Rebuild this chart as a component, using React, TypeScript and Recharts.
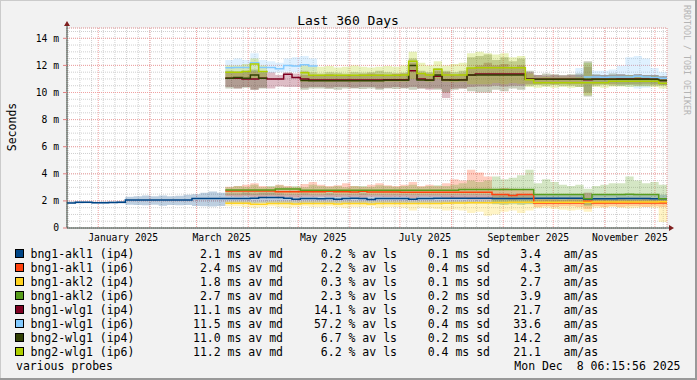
import React from "react";
import { Area, CartesianGrid, ComposedChart, Line, ReferenceDot, XAxis, YAxis } from "recharts";

const FONT = "'DejaVu Sans Mono', monospace";
const STEP_DAYS = 5;
const SPAN_DAYS = 360;
const Y_TOP = 14.76;
const LATE_START = 19; // first sample of the probes that were added in March
const START = new Date(2024, 11, 13, 6, 15, 56);
const AXIS = "#2c4d43";

const dayOf = (d: Date) => (d.getTime() - START.getTime()) / 86400000;

// x axis: labels sit in the middle of every second month
const LABEL_MONTHS = [0, 2, 4, 6, 8, 10];
const LABEL_NAMES = ["January 2025", "March 2025", "May 2025", "July 2025", "September 2025", "November 2025"];
const LABEL_TICKS = LABEL_MONTHS.map((m) => dayOf(new Date(2025, m, 1)) + 15);
const MONTH_TICKS = Array.from({ length: 12 }, (_, m) => dayOf(new Date(2025, m, 1)));
const WEEK_TICKS: number[] = [];
for (let d = new Date(2024, 11, 14); dayOf(d) < SPAN_DAYS; d = new Date(d.getFullYear(), d.getMonth(), d.getDate() + 7)) {
  WEEK_TICKS.push(dayOf(d));
}
const MAJOR_Y = [0, 2, 4, 6, 8, 10, 12, 14];
const MINOR_Y = Array.from({ length: 30 }, (_, i) => i * 0.5);

// legend
const NAMES = ["bng1-akl1 (ip4)", "bng1-akl1 (ip6)", "bng1-akl2 (ip4)", "bng1-akl2 (ip6)", "bng1-wlg1 (ip4)", "bng1-wlg1 (ip6)", "bng2-wlg1 (ip4)", "bng2-wlg1 (ip6)"];
const COLORS = ["#004586", "#ff420e", "#ffd320", "#579d1c", "#7e0021", "#83caff", "#314004", "#aecf00"];
const AV_MEDIAN = [2.1, 2.4, 1.8, 2.7, 11.1, 11.5, 11.0, 11.2];
const AV_LOSS = [0.2, 2.2, 0.3, 2.3, 14.1, 57.2, 6.7, 6.2];
const AV_SD = [0.1, 0.4, 0.1, 0.2, 0.2, 0.4, 0.2, 0.4];
const AM_AS = [3.4, 4.3, 2.7, 3.9, 21.7, 33.6, 14.2, 21.1];

type V = number | null;
const _ = null;
const late = (v: V[]): V[] => [...Array(LATE_START).fill(null), ...v];

// bng1-akl1 (ip4), the only probe running for the whole period (ms, one sample every 5 days)
const AKL1_V4_MED = [
  1.85, 1.9, 1.9, 1.87, 1.87, 1.88, 1.9, 2.07, 2.07, 2.07,
  2.07, 2.07, 2.07, 2.07, 2.07, 2.18, 2.18, 2.18, 2.18, 2.18,
  2.18, 2.18, 2.2, 2.26, 2.26, 2.26, 2.2, 2.12, 2.17, 2.17,
  2.15, 2.17, 2.12, 2.17, 2.2, 2.17, 2.1, 2.17, 2.17, 2.17,
  2.17, 2.12, 2.17, 2.17, 2.19, 2.19, 2.19, 2.19, 2.19, 2.19,
  2.19, 2.17, 2.17, 2.17, 2.17, 2.17, 2.19, 2.19, 2.19, 2.19,
  2.19, 2.19, 2.12, 2.15, 2.15, 2.15, 2.17, 2.17, 2.17, 2.17,
  2.15, 2.15, 2.15,
];
const AKL1_V4_LO = [
  1.8, 1.8, 1.82, 1.8, 1.8, 1.82, 1.8, 1.72, 1.7, 1.68,
  1.72, 1.65, 1.7, 1.68, 1.7, 1.62, 1.6, 1.58, 1.62, 1.8,
  1.8, 1.82, 1.8, 1.85, 1.85, 1.82, 1.8, 1.8, 1.82, 1.8,
  1.8, 1.82, 1.8, 1.8, 1.78, 1.8, 1.8, 1.82, 1.8, 1.8,
  1.8, 1.8, 1.8, 1.8, 1.8, 1.78, 1.8, 1.8, 1.8, 1.8,
  1.8, 1.8, 1.8, 1.82, 1.8, 1.8, 1.9, 1.9, 1.88, 1.9,
  1.9, 1.88, 1.7, 1.9, 1.9, 1.88, 1.9, 1.9, 1.88, 1.9,
  1.9, 1.88, 1.88,
];
const AKL1_V4_HI = [
  1.95, 1.96, 1.95, 1.94, 1.95, 1.95, 1.97, 2.3, 2.35, 2.4,
  2.35, 2.4, 2.35, 2.38, 2.45, 2.5, 2.6, 2.7, 2.6, 2.55,
  2.55, 2.6, 2.55, 2.6, 2.6, 2.55, 2.5, 2.5, 2.55, 2.5,
  2.5, 2.55, 2.5, 2.5, 2.5, 2.55, 2.5, 2.5, 2.5, 2.5,
  2.5, 2.5, 2.5, 2.5, 2.5, 2.5, 2.5, 2.5, 2.5, 2.5,
  2.5, 2.5, 2.5, 2.5, 2.5, 2.5, 2.45, 2.45, 2.45, 2.45,
  2.45, 2.45, 2.6, 2.45, 2.45, 2.45, 2.45, 2.45, 2.45, 2.45,
  2.45, 2.45, 2.45,
];

// the other probes, from mid March on
const AKL1_V6_MED = [
  2.73, 2.73, 2.73, 2.73, 2.73, 2.73, 2.67, 2.67, 2.67, 2.67, 2.67,
  2.67, 2.72, 2.67, 2.67, 2.65, 2.72, 2.65, 2.65, 2.65, 2.65,
  2.64, 2.64, 2.64, 2.64, 2.64, 2.64, 2.64, 2.64, 2.64, 2.64,
  2.64, 2.47, 2.47, 2.4, 2.47, 2.47, 1.85, 1.85, 1.85, 1.85,
  1.85, 1.85, 1.97, 1.84, 1.84, 1.84, 1.84, 1.84, 1.84, 1.84,
  1.84, 1.84, 1.84,
];
const AKL1_V6_LO = [
  2.35, 2.3, 2.35, 2.3, 2.3, 2.35, 2.3, 2.3, 2.25, 2.3, 2.3,
  2.3, 2.3, 2.28, 2.3, 2.3, 2.25, 2.3, 2.3, 2.28, 2.3,
  2.3, 2.2, 2.3, 2.3, 2.3, 2.25, 2.2, 2.2, 2.1, 2.1,
  2.1, 2.1, 2.1, 2.05, 2.1, 2.1, 1.55, 1.6, 1.55, 1.6,
  1.6, 1.55, 1.4, 1.6, 1.55, 1.6, 1.55, 1.6, 1.6, 1.55,
  1.6, 1.55, 1.5,
];
const AKL1_V6_HI = [
  3.05, 3.1, 3.2, 3.3, 3.1, 3.05, 3.2, 3.1, 3.0, 3.25, 3.4,
  3.2, 3.1, 3.15, 3.3, 3.1, 3.05, 3.2, 3.3, 3.15, 3.1,
  3.2, 3.4, 3.1, 3.2, 3.1, 3.3, 3.6, 3.5, 4.3, 4.1,
  3.8, 2.9, 2.95, 2.9, 2.85, 2.8, 2.15, 2.2, 2.15, 2.1,
  2.2, 2.15, 2.6, 2.15, 2.1, 2.1, 2.15, 2.1, 2.1, 2.15,
  2.1, 2.1, 2.1,
];

const AKL2_V4_MED = [
  1.82, 1.82, 1.82, 1.75, 1.75, 1.8, 1.8, 1.8, 1.78, 1.8, 1.8,
  1.8, 1.8, 1.78, 1.8, 1.8, 1.8, 1.78, 1.8, 1.8, 1.8,
  1.8, 1.8, 1.8, 1.8, 1.8, 1.82, 1.85, 1.85, 1.87, 1.87,
  1.87, 1.88, 1.88, 1.9, 1.9, 1.9, 1.9, 1.9, 1.9, 1.9,
  1.9, 1.9, 1.9, 1.92, 1.92, 1.92, 1.92, 1.92, 1.92, 1.92,
  1.92, 1.93, 1.93,
];
const AKL2_V4_LO = [
  1.6, 1.6, 1.55, 1.5, 1.55, 1.6, 1.55, 1.5, 1.55, 1.6, 1.55,
  1.55, 1.6, 1.55, 1.5, 1.55, 1.55, 1.6, 1.5, 1.55, 1.55,
  1.5, 1.3, 1.5, 1.45, 1.4, 1.3, 1.35, 1.3, 1.1, 1.2,
  0.9, 1.0, 1.2, 1.3, 1.1, 1.3, 1.45, 1.5, 1.4, 1.35,
  1.3, 1.35, 1.2, 1.5, 1.5, 1.55, 1.5, 1.45, 1.5, 1.55,
  1.5, 0.45, 1.4,
];
const AKL2_V4_HI = [
  2.0, 2.0, 1.98, 1.95, 1.95, 2.0, 2.0, 2.0, 1.98, 2.0, 2.0,
  2.0, 2.0, 2.0, 2.0, 2.0, 2.0, 2.0, 2.0, 2.0, 2.0,
  2.0, 2.0, 2.0, 2.0, 2.0, 2.0, 2.0, 2.0, 2.0, 2.0,
  2.05, 2.05, 2.05, 2.05, 2.05, 2.05, 2.05, 2.05, 2.05, 2.05,
  2.05, 2.05, 2.05, 2.05, 2.05, 2.05, 2.05, 2.05, 2.05, 2.05,
  2.05, 2.05, 2.05,
];

const AKL2_V6_MED = [
  2.8, 2.8, 2.8, 2.8, 2.8, 2.8, 2.87, 2.87, 2.87, 2.78, 2.78,
  2.78, 2.78, 2.78, 2.78, 2.78, 2.78, 2.78, 2.78, 2.78, 2.78,
  2.78, 2.78, 2.78, 2.78, 2.78, 2.78, 2.78, 2.85, 2.85, 2.85,
  2.85, 2.85, 2.85, 2.85, 2.85, 2.85, 2.47, 2.47, 2.47, 2.47,
  2.47, 2.47, 2.15, 2.47, 2.47, 2.47, 2.47, 2.5, 2.47, 2.47,
  2.47, 2.15, 2.15,
];
const AKL2_V6_LO = [
  2.45, 2.45, 2.45, 2.45, 2.45, 2.45, 2.45, 2.45, 2.45, 2.45, 2.45,
  2.45, 2.45, 2.45, 2.45, 2.45, 2.45, 2.45, 2.45, 2.45, 2.45,
  2.45, 2.45, 2.45, 2.45, 2.45, 2.45, 2.45, 2.45, 2.45, 2.45,
  2.45, 1.75, 1.7, 1.75, 1.7, 1.75, 1.95, 1.95, 1.9, 1.95,
  1.95, 1.9, 1.6, 1.95, 1.95, 1.9, 1.95, 1.9, 1.95, 1.95,
  1.95, 1.9, 1.9,
];
const AKL2_V6_HI = [
  3.0, 3.1, 3.05, 3.2, 3.0, 3.1, 3.15, 3.05, 3.1, 3.0, 3.2,
  3.1, 3.05, 3.1, 3.0, 3.1, 3.1, 3.05, 3.15, 3.1, 3.05,
  3.1, 3.2, 3.05, 3.1, 3.15, 3.1, 3.2, 3.3, 3.5, 3.4,
  3.5, 3.8, 3.6, 3.7, 3.9, 4.3, 3.3, 3.6, 3.4, 3.2,
  3.1, 3.2, 2.9, 3.1, 3.2, 3.3, 3.3, 3.8, 3.5, 3.3,
  3.4, 3.2, 3.0,
];

const WLG1_V4_MED = [
  11.05, 11.05, 11.0, 11.0, 11.05, 11.0, 11.0, 11.35, 11.1, 11.0, 10.92,
  10.92, 10.92, 10.92, 10.92, 10.92, 10.92, 10.92, 10.92, 10.95, 10.95,
  10.95, 11.6, 11.0, 10.92, 11.2, 10.95, 10.92, 10.95, 11.3, 11.37,
  11.37, 11.37, 11.37, 11.37, 11.37, 11.0, 10.98, 10.98, 10.98, 10.98,
  10.98, 10.98, 10.95, 10.98, 10.98, 10.98, 11.0, 11.0, 11.0, 11.0,
  11.0, 10.88, 10.88,
];
const WLG1_V4_LO = [
  10.4, 10.3, 10.4, 10.2, 10.35, 10.3, 10.45, 10.4, 10.4, 10.35, 10.4,
  10.4, 10.35, 10.4, 10.4, 10.35, 10.4, 10.4, 10.3, 10.35, 10.4,
  10.35, 10.4, 10.3, 10.2, 10.3, 9.6, 10.3, 10.3, 10.4, 10.45,
  10.45, 10.5, 10.45, 10.5, 10.5, 10.6, 10.6, 10.65, 10.6, 10.65,
  10.6, 10.6, 10.0, 10.6, 10.65, 10.6, 10.6, 10.6, 10.6, 10.65,
  10.6, 10.55, 10.55,
];
const WLG1_V4_HI = [
  11.5, 11.5, 11.55, 11.6, 11.5, 11.5, 11.3, 11.5, 11.4, 11.3, 11.3,
  11.3, 11.35, 11.3, 11.3, 11.3, 11.35, 11.4, 11.35, 11.3, 11.4,
  11.4, 12.2, 11.4, 11.4, 11.6, 11.5, 11.3, 11.4, 11.8, 12.0,
  12.2, 12.0, 12.1, 11.9, 12.0, 11.5, 11.3, 11.25, 11.3, 11.25,
  11.3, 11.3, 11.9, 11.3, 11.3, 11.3, 11.35, 11.3, 11.35, 11.3,
  11.3, 11.2, 11.2,
];

const WLG1_V6_MED = [
  11.82, 11.85, 11.85, 12.2, 11.85, 11.85, 11.75, 12.0, 11.95, 12.05, 11.95,
  11.92, _, _, _, _, _, _, _, _, _,
  _, _, _, _, _, _, _, _, _, _,
  _, _, _, _, _, _, _, _, _, _,
  _, _, 11.15, 11.15, 11.12, 11.15, 11.15, 11.15, 11.2, 11.15,
  11.1, 11.05, 11.05,
];
const WLG1_V6_LO = [
  11.4, 11.45, 11.4, 11.5, 11.4, 11.45, 11.5, 11.55, 11.5, 11.6, 11.55,
  11.5, _, _, _, _, _, _, _, _, _,
  _, _, _, _, _, _, _, _, _, _,
  _, _, _, _, _, _, _, _, _, _,
  _, 10.9, 10.0, 10.7, 10.65, 10.7, 10.5, 10.4, 10.3, 10.35,
  10.6, 10.6, 10.6,
];
const WLG1_V6_HI = [
  12.4, 12.5, 12.4, 12.9, 12.4, 12.3, 12.2, 12.5, 12.6, 12.7, 12.5,
  12.5, _, _, _, _, _, _, _, _, _,
  _, _, _, _, _, _, _, _, _, _,
  _, _, _, _, _, _, _, _, _, _,
  _, 11.8, 12.2, 11.6, 11.6, 11.7, 12.0, 12.6, 12.7, 12.5,
  11.8, 11.5, 11.5,
];

const WLG2_V4_MED = [
  11.05, 11.1, 11.05, 11.3, 11.05, 11.05, _, _, _, 10.88, 10.87,
  10.87, 10.87, 10.87, 10.87, 10.87, 10.87, 10.87, 10.87, 10.9, 10.9,
  10.9, 12.0, 10.92, 10.9, 11.3, 10.92, 10.9, 10.92, 11.29, 11.29,
  11.29, 11.29, 11.29, 11.29, 11.29, 10.98, 10.97, 10.97, 10.97, 10.97,
  10.97, 10.97, 10.97, 10.97, 10.97, 10.97, 10.97, 10.97, 10.97, 10.97,
  10.97, 10.88, 10.88,
];
const WLG2_V4_LO = [
  10.3, 10.3, 10.35, 10.2, 10.3, 10.25, _, _, _, 10.2, 10.3,
  10.3, 10.25, 10.2, 10.3, 10.3, 10.25, 10.3, 10.2, 10.3, 10.25,
  10.3, 10.2, 10.3, 10.3, 10.2, 10.0, 10.2, 10.3, 10.1, 10.0,
  10.0, 10.2, 10.1, 10.3, 10.2, 10.5, 10.55, 10.5, 10.55, 10.5,
  10.5, 10.4, 9.7, 10.5, 10.55, 10.5, 10.5, 10.55, 10.5, 10.5,
  10.5, 10.5, 10.5,
];
const WLG2_V4_HI = [
  11.6, 11.55, 11.6, 11.7, 11.5, 11.55, _, _, _, 11.6, 11.5,
  11.4, 11.5, 11.45, 11.4, 11.5, 11.45, 11.5, 11.6, 11.5, 11.4,
  11.45, 12.5, 11.6, 11.5, 11.8, 11.6, 11.5, 11.6, 12.6, 12.7,
  12.8, 12.4, 12.6, 12.3, 12.5, 11.6, 11.3, 11.4, 11.35, 11.3,
  11.35, 11.4, 12.3, 11.35, 11.3, 11.4, 11.35, 11.3, 11.35, 11.3,
  11.3, 11.2, 11.2,
];

const WLG2_V6_MED = [
  11.5, 11.5, 11.55, 12.1, 11.55, 11.5, _, _, _, 11.45, 11.28,
  11.28, 11.28, 11.28, 11.28, 11.28, 11.28, 11.28, 11.28, 11.28, 11.28,
  11.3, 12.3, 11.4, 11.3, 11.72, 11.3, 11.3, 11.3, 11.8, 11.82,
  11.82, 11.82, 11.82, 11.82, 11.82, 10.95, 10.72, 10.72, 10.72, 10.72,
  10.72, 10.72, 10.72, 10.72, 10.72, 10.83, 10.83, 10.83, 10.83, 10.83,
  10.83, 10.68, 10.68,
];
const WLG2_V6_LO = [
  11.0, 11.0, 11.05, 11.0, 11.1, 11.0, _, _, _, 10.8, 10.8,
  10.8, 10.75, 10.8, 10.8, 10.75, 10.8, 10.8, 10.75, 10.8, 10.8,
  10.8, 11.0, 10.85, 10.8, 11.0, 10.8, 10.75, 10.8, 10.6, 10.6,
  10.6, 10.7, 10.6, 10.7, 10.65, 10.4, 10.35, 10.4, 10.35, 10.4,
  10.35, 10.4, 9.8, 10.4, 10.35, 10.45, 10.45, 10.4, 10.45, 10.45,
  10.4, 10.3, 10.3,
];
const WLG2_V6_HI = [
  12.0, 12.0, 12.1, 12.5, 12.0, 11.95, _, _, _, 12.0, 11.9,
  11.9, 11.95, 11.85, 11.9, 12.0, 11.9, 11.85, 11.9, 11.95, 11.9,
  12.0, 13.0, 12.2, 12.0, 12.3, 12.0, 12.1, 12.2, 12.9, 13.0,
  12.9, 12.8, 12.9, 12.6, 12.7, 11.4, 11.1, 11.15, 11.1, 11.1,
  11.1, 11.15, 12.2, 11.1, 11.1, 11.2, 11.2, 11.25, 11.2, 11.2,
  11.2, 11.0, 11.0,
];

const SERIES = [
  { key: "akl1_4", med: AKL1_V4_MED, lo: AKL1_V4_LO, hi: AKL1_V4_HI },
  { key: "akl1_6", med: late(AKL1_V6_MED), lo: late(AKL1_V6_LO), hi: late(AKL1_V6_HI) },
  { key: "akl2_4", med: late(AKL2_V4_MED), lo: late(AKL2_V4_LO), hi: late(AKL2_V4_HI) },
  { key: "akl2_6", med: late(AKL2_V6_MED), lo: late(AKL2_V6_LO), hi: late(AKL2_V6_HI) },
  { key: "wlg1_4", med: late(WLG1_V4_MED), lo: late(WLG1_V4_LO), hi: late(WLG1_V4_HI) },
  { key: "wlg1_6", med: late(WLG1_V6_MED), lo: late(WLG1_V6_LO), hi: late(WLG1_V6_HI) },
  { key: "wlg2_4", med: late(WLG2_V4_MED), lo: late(WLG2_V4_LO), hi: late(WLG2_V4_HI) },
  { key: "wlg2_6", med: late(WLG2_V6_MED), lo: late(WLG2_V6_LO), hi: late(WLG2_V6_HI) },
];

const rows = Array.from({ length: SPAN_DAYS / STEP_DAYS + 1 }, (_x, i) => {
  const row: Record<string, any> = { day: i * STEP_DAYS };
  SERIES.forEach((s) => {
    row[s.key] = s.med[i] ?? null;
    const lo = s.lo[i];
    const hi = s.hi[i];
    row[s.key + "_band"] = lo != null && hi != null ? [lo, hi] : null;
  });
  return row;
});

const XArrow = (props: any) => {
  const { cx, cy } = props;
  return (
    <g>
      <line x1={cx} y1={cy} x2={cx + 3} y2={cy} stroke={AXIS} />
      <polygon points={`${cx + 2},${cy - 3} ${cx + 7},${cy} ${cx + 2},${cy + 3}`} fill="#7f1f1f" />
    </g>
  );
};

const YArrow = (props: any) => {
  const { cx, cy } = props;
  return (
    <g>
      <line x1={cx} y1={cy} x2={cx} y2={cy - 3} stroke={AXIS} />
      <polygon points={`${cx - 3},${cy - 2} ${cx},${cy - 7} ${cx + 3},${cy - 2}`} fill="#7f1f1f" />
    </g>
  );
};

const tickFont = { fontFamily: FONT, fontSize: 9.7, fill: "#000", whiteSpace: "pre" as const };
const legendFont = { fontFamily: FONT, fontSize: 11.5, fill: "#000", whiteSpace: "pre" as const };

const YTick = (props: any) => {
  const { x, y, payload } = props;
  const v = payload.value as number;
  return (
    <text x={x} y={y} dy="0.36em" textAnchor="end" style={tickFont}>
      {v === 0 ? "0" : `${v} m`}
    </text>
  );
};

export default function App() {
  return (
    <div style={{ position: "absolute", left: 0, top: 0, width: 697, height: 380, background: "#f2f2f2" }}>
      <ComposedChart width={697} height={380} data={rows} margin={{ top: 28, right: 30, bottom: 151, left: 66 }}>
        <XAxis xAxisId="week" dataKey="day" type="number" domain={[0, SPAN_DAYS]} ticks={WEEK_TICKS} interval={0}
          height={0} axisLine={false} tickLine={false} tickFormatter={() => ""} allowDataOverflow />
        <XAxis xAxisId="month" dataKey="day" type="number" domain={[0, SPAN_DAYS]} ticks={MONTH_TICKS} interval={0}
          height={0} axisLine={false} tickLine={false} tickFormatter={() => ""} allowDataOverflow />
        <XAxis xAxisId="label" dataKey="day" type="number" domain={[0, SPAN_DAYS]} ticks={LABEL_TICKS} interval={0}
          height={1} axisLine={{ stroke: AXIS }} tickLine={false} tickSize={3} tickMargin={3} tick={tickFont}
          tickFormatter={(v: number) => LABEL_NAMES[LABEL_TICKS.findIndex((t) => Math.abs(t - v) < 0.01)] ?? ""} allowDataOverflow />
        <YAxis yAxisId="minor" type="number" domain={[0, Y_TOP]} ticks={MINOR_Y} interval={0} width={0}
          axisLine={false} tickLine={false} tickFormatter={() => ""} allowDataOverflow />
        <YAxis yAxisId="main" type="number" domain={[0, Y_TOP]} ticks={MAJOR_Y} interval={0} width={1}
          axisLine={{ stroke: AXIS }} tickLine={{ stroke: "#e08080" }} tickSize={4} tickMargin={4} tick={<YTick />}
          allowDataOverflow />
        <CartesianGrid xAxisId="week" yAxisId="minor" stroke="#cfcfcf" strokeDasharray="1 1" fill="#ffffff" fillOpacity={1} />
        <CartesianGrid xAxisId="month" yAxisId="main" stroke="#f0a0a0" strokeDasharray="1 1" />
        {SERIES.map((s, i) => (
          <Area key={s.key + "_band"} xAxisId="label" yAxisId="main" dataKey={s.key + "_band"} type="stepAfter"
            stroke="none" fill={COLORS[i]} fillOpacity={0.26} isAnimationActive={false} activeDot={false} connectNulls={false} />
        ))}
        {SERIES.map((s, i) => (
          <Line key={s.key} xAxisId="label" yAxisId="main" dataKey={s.key} type="stepAfter" stroke={COLORS[i]}
            strokeWidth={1.5} dot={false} activeDot={false} isAnimationActive={false} connectNulls={false} />
        ))}
        <ReferenceDot xAxisId="label" yAxisId="main" x={SPAN_DAYS} y={0} ifOverflow="visible" shape={XArrow} />
        <ReferenceDot xAxisId="label" yAxisId="main" x={0} y={Y_TOP} ifOverflow="visible" shape={YArrow} />
      </ComposedChart>
      <svg width={697} height={380} style={{ position: "absolute", left: 0, top: 0, pointerEvents: "none" }}>
        <line x1={0} y1={0.5} x2={697} y2={0.5} stroke="#cbcbcb" />
        <line x1={0.5} y1={0} x2={0.5} y2={380} stroke="#cbcbcb" />
        <line x1={0} y1={379} x2={697} y2={379} stroke="#999999" strokeWidth={2} />
        <line x1={696} y1={0} x2={696} y2={380} stroke="#999999" strokeWidth={2} />
        <text x={348} y={24.5} textAnchor="middle" style={{ fontFamily: FONT, fontSize: 13, fill: "#000", whiteSpace: "pre" }}>
          Last 360 Days
        </text>
        <text x={15.5} y={127} textAnchor="middle" transform="rotate(-90 15.5 127)" style={legendFont}>
          Seconds
        </text>
        <text x={684} y={5} transform="rotate(90 684 5)" style={{ fontFamily: FONT, fontSize: 8.3, fill: "#b4b4b4" }}>
          RRDTOOL / TOBI OETIKER
        </text>
        {NAMES.map((name, i) => {
          const cy = 254 + i * 14;
          const base = cy + 4;
          return (
            <g key={name}>
              <rect x={15.5} y={cy - 4.5} width={8} height={8} fill={COLORS[i]} stroke="#000" strokeWidth={1} />
              <text x={30.5} y={base} style={legendFont}>{name}</text>
              <text x={283} y={base} textAnchor="end" style={legendFont}>{`${AV_MEDIAN[i].toFixed(1)} ms av md`}</text>
              <text x={397} y={base} textAnchor="end" style={legendFont}>{`${AV_LOSS[i].toFixed(1)} % av ls`}</text>
              <text x={490} y={base} textAnchor="end" style={legendFont}>{`${AV_SD[i].toFixed(1)} ms sd`}</text>
              <text x={541} y={base} textAnchor="end" style={legendFont}>{AM_AS[i].toFixed(1)}</text>
              <text x={563.5} y={base} style={legendFont}>am/as</text>
            </g>
          );
        })}
        <text x={16} y={370} style={legendFont}>various probes</text>
        <text x={680.5} y={370} textAnchor="end" style={legendFont}>{"Mon Dec  8 06:15:56 2025"}</text>
      </svg>
    </div>
  );
}
